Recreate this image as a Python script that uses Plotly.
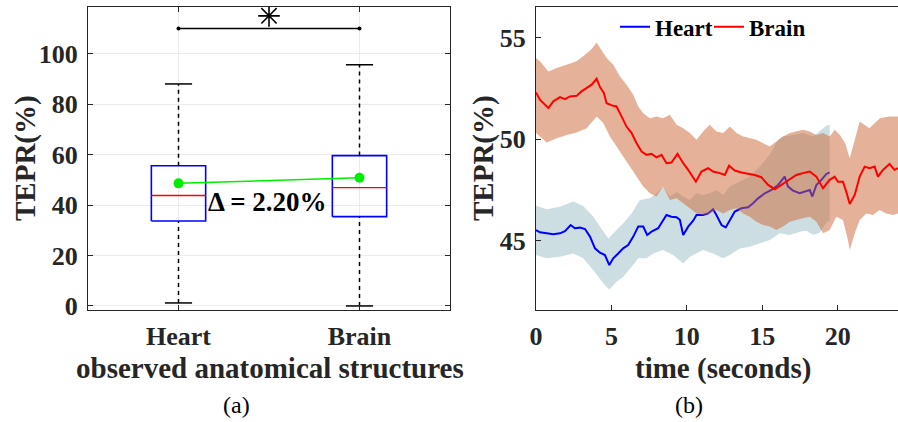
import plotly.graph_objects as go

W, H = 898, 422

# ---------------- (a) box-plot summary ----------------
categories = ["Heart", "Brain"]
lower_whisker = [1.2, 0.0]
q1 = [33.7, 35.4]
median = [43.8, 46.9]
q3 = [55.6, 59.6]
upper_whisker = [88.0, 95.6]
mean_val = [48.6, 50.8]
sig_level = 110.0
star_level = 115.0

# ---------------- (b) TEPR over time ----------------
brain_t = [0, 0.26, 0.82, 1.15, 1.59, 1.92, 2.25, 2.69, 3.02, 3.36, 3.69, 4.02, 4.24, 4.5, 4.68,
           5.12, 5.34, 5.67, 6.0, 6.34, 6.67, 7.0, 7.33, 7.66, 7.99, 8.32, 8.65, 8.98, 9.38, 9.76,
           10.09, 10.6, 10.97, 11.41, 11.74, 12.19, 12.52, 12.8, 13.18, 13.62, 14.06, 14.5, 14.94,
           15.39, 15.83, 16.27, 16.71, 17.26, 17.7, 18.15, 18.59, 19.03, 19.47, 19.8, 20.02, 20.35,
           20.57, 20.8, 21.13, 21.46, 21.79, 22.12, 22.45, 22.67, 23.0, 23.44, 23.77, 24.0]
brain_mean = [52.30, 51.94, 51.53, 51.86, 52.07, 51.97, 52.10, 52.13, 52.35, 52.51, 52.68, 52.97,
              52.56, 52.27, 51.77, 51.64, 51.61, 51.12, 50.62, 50.30, 49.80, 49.39, 49.23, 49.28,
              49.11, 49.23, 48.82, 48.85, 49.28, 48.82, 48.49, 47.91, 48.41, 48.57, 48.41, 48.33,
              48.24, 48.70, 48.46, 48.36, 48.29, 48.24, 48.13, 47.75, 47.54, 47.75, 48.00, 48.24,
              48.33, 48.41, 48.16, 47.59, 48.00, 48.16, 47.91, 47.91, 47.42, 46.81, 47.26, 48.16,
              48.65, 48.57, 48.65, 48.16, 48.49, 48.78, 48.49, 48.57]

brain_up_t = [0, 0.26, 0.82, 1.37, 2.03, 2.69, 3.25, 3.69, 4.02, 4.35, 4.68, 5.12, 5.56, 6.0, 6.45,
              6.78, 7.11, 7.55, 7.99, 8.43, 8.87, 9.32, 9.76, 10.2, 10.64, 11.08, 11.52, 11.96,
              12.41, 12.85, 13.29, 13.73, 14.17, 14.61, 15.06, 15.5, 15.94, 16.38, 16.82, 17.26,
              17.7, 18.15, 18.59, 19.03, 19.47, 19.8, 20.15, 20.5, 20.8, 21.0, 21.46, 22.1, 22.8,
              23.4, 24.0]
brain_upper = [53.99, 53.83, 53.33, 53.50, 53.66, 53.83, 54.15, 54.43, 54.76, 54.40, 53.99, 53.66,
               53.09, 52.68, 52.18, 51.61, 51.28, 51.03, 51.12, 51.03, 51.20, 50.71, 50.54, 50.30,
               49.97, 50.38, 50.71, 50.38, 50.30, 50.62, 50.30, 50.13, 50.05, 49.97, 49.80, 49.64,
               49.89, 50.13, 50.30, 50.38, 50.46, 50.38, 50.21, 50.30, 50.13, 50.46, 50.21, 49.80,
               49.06, 49.60, 50.87, 50.54, 51.03, 51.11, 51.11]

brain_lo_t = [0, 0.71, 1.37, 2.03, 2.69, 3.36, 4.02, 4.46, 4.9, 5.34, 5.78, 6.23, 6.67, 7.11, 7.55,
              7.99, 8.43, 8.87, 9.32, 9.76, 10.2, 10.64, 11.08, 11.52, 11.96, 12.41, 12.85, 13.29,
              13.73, 14.17, 14.61, 15.06, 15.5, 15.94, 16.38, 16.82, 17.26, 17.7, 18.15, 18.59,
              19.03, 19.47, 19.91, 20.35, 20.68, 20.8, 21.13, 21.46, 21.9, 22.34, 22.78, 23.22,
              23.66, 24.0]
brain_lower = [50.30, 49.84, 50.05, 50.21, 50.33, 50.54, 51.12, 50.79, 50.13, 49.64, 49.15, 48.65,
               48.16, 47.67, 47.34, 47.18, 47.67, 47.01, 47.09, 46.85, 46.60, 46.35, 46.27, 46.35,
               46.52, 46.35, 46.52, 46.60, 46.35, 46.19, 45.94, 45.78, 45.70, 45.53, 45.70, 45.94,
               46.03, 46.11, 46.19, 45.94, 45.37, 45.53, 46.19, 46.03, 45.04, 44.55, 45.37, 46.03,
               46.35, 46.27, 46.52, 46.35, 46.27, 46.35]

heart_t = [0, 0.26, 0.71, 1.15, 1.59, 1.92, 2.3, 2.58, 2.91, 3.25, 3.58, 3.91, 4.24, 4.57, 4.86,
           5.12, 5.45, 5.78, 6.11, 6.45, 6.78, 7.11, 7.37, 7.66, 8.1, 8.32, 8.65, 8.98, 9.32, 9.54,
           9.76, 10.09, 10.42, 10.64, 11.08, 11.41, 11.74, 11.96, 12.3, 12.58, 12.85, 13.18, 13.62,
           14.06, 14.39, 14.72, 15.17, 15.61, 16.05, 16.49, 16.71, 17.04, 17.48, 17.81, 18.15,
           18.32, 18.59, 18.92, 19.25, 19.47]
heart_mean = [45.53, 45.42, 45.37, 45.32, 45.37, 45.48, 45.78, 45.62, 45.65, 45.58, 45.21, 44.63,
              44.42, 44.30, 43.81, 44.14, 44.38, 44.63, 44.79, 45.21, 45.70, 45.70, 45.29, 45.45,
              45.62, 45.86, 46.27, 46.19, 46.16, 46.03, 45.29, 45.70, 45.99, 46.27, 46.27, 46.35,
              46.55, 46.27, 45.78, 45.66, 46.03, 46.44, 46.60, 46.65, 46.85, 47.09, 47.34, 47.50,
              47.75, 48.16, 47.67, 47.47, 47.34, 47.42, 47.50, 47.18, 47.75, 48.00, 48.29, 48.37]

heart_up_t = [0, 0.71, 1.59, 2.47, 3.13, 3.8, 4.24, 4.79, 5.34, 5.78, 6.34, 6.89, 7.55, 7.99, 8.43,
              8.87, 9.32, 9.76, 10.2, 10.64, 11.08, 11.52, 11.96, 12.41, 12.85, 13.51, 14.17, 14.83,
              15.5, 16.05, 16.38, 17.04, 17.7, 18.37, 18.81, 19.25, 19.47]
heart_upper = [46.73, 46.55, 46.68, 46.93, 46.72, 46.19, 45.70, 45.12, 45.53, 45.86, 46.35, 47.01,
               47.09, 47.34, 47.67, 47.18, 47.42, 47.18, 47.01, 47.34, 47.26, 47.34, 47.50, 47.26,
               47.67, 47.91, 48.16, 48.65, 49.23, 49.97, 50.13, 50.21, 50.30, 50.13, 50.38, 50.66,
               50.71]

heart_lo_t = [0, 0.71, 1.59, 2.47, 3.13, 3.8, 4.46, 4.86, 5.34, 5.78, 6.34, 6.78, 7.33, 7.77, 8.43,
              9.09, 9.76, 10.2, 10.64, 11.08, 11.74, 12.41, 12.85, 13.51, 14.17, 14.83, 15.5,
              16.16, 16.82, 17.48, 17.92, 18.37, 18.81, 19.25, 19.47]
heart_lower = [44.30, 44.14, 44.22, 44.38, 44.14, 43.56, 42.91, 42.61, 42.99, 43.23, 43.73, 44.14,
               44.14, 44.38, 44.55, 44.30, 43.89, 44.22, 44.38, 44.55, 44.38, 44.14, 44.30, 44.63,
               44.71, 44.88, 45.04, 45.37, 45.29, 45.45, 45.50, 45.30, 45.40, 45.90, 46.00]

# ---------------- styling ----------------
SERIF = "Liberation Serif, Times New Roman, serif"
AX_COLOR = "#262626"
GRID = "#ebebeb"
BRAIN_FILL = "rgba(204,102,51,0.5)"
HEART_FILL = "rgba(155,190,200,0.5)"


def px_x(px):
    return px / W


def px_y(py):
    return 1 - py / H


fig = go.Figure()

box_half = 0.15
cap_half = 0.075
for i, name in enumerate(categories):
    c = i + 1
    # dashed whiskers
    for lo, hi in ((q3[i], upper_whisker[i]), (lower_whisker[i], q1[i])):
        fig.add_trace(go.Scatter(x=[c, c], y=[lo, hi], mode="lines",
                                 line=dict(color="black", width=1.5, dash="4px,4px"),
                                 showlegend=False, hoverinfo="skip", xaxis="x", yaxis="y"))
    # whisker caps
    for v in (upper_whisker[i], lower_whisker[i]):
        fig.add_trace(go.Scatter(x=[c - cap_half, c + cap_half], y=[v, v], mode="lines",
                                 line=dict(color="black", width=1.5),
                                 showlegend=False, hoverinfo="skip", xaxis="x", yaxis="y"))
    # box
    fig.add_trace(go.Scatter(x=[c - box_half, c + box_half, c + box_half, c - box_half, c - box_half],
                             y=[q1[i], q1[i], q3[i], q3[i], q1[i]], mode="lines",
                             line=dict(color="#0000ff", width=1.6),
                             showlegend=False, hoverinfo="skip", xaxis="x", yaxis="y"))
    # median
    fig.add_trace(go.Scatter(x=[c - box_half, c + box_half], y=[median[i], median[i]], mode="lines",
                             line=dict(color="#ff0000", width=1.4),
                             showlegend=False, hoverinfo="skip", xaxis="x", yaxis="y"))

# means joined by a green line
fig.add_trace(go.Scatter(x=[1, 2], y=mean_val, mode="lines+markers",
                         line=dict(color="#00ee00", width=1.5),
                         marker=dict(color="#00ee00", size=10),
                         showlegend=False, hoverinfo="skip", xaxis="x", yaxis="y"))

# significance bracket and star
fig.add_trace(go.Scatter(x=[1, 2], y=[sig_level, sig_level], mode="lines+markers",
                         line=dict(color="black", width=1.5),
                         marker=dict(color="black", size=4),
                         showlegend=False, hoverinfo="skip", xaxis="x", yaxis="y"))
fig.add_trace(go.Scatter(x=[1.5], y=[star_level], mode="markers",
                         marker=dict(symbol="asterisk-open", size=18, color="black",
                                     line=dict(color="black", width=1.6)),
                         showlegend=False, hoverinfo="skip", xaxis="x", yaxis="y"))

delta = mean_val[1] - mean_val[0]
fig.add_annotation(x=1.151, y=41.4, xref="x", yref="y", xanchor="left", yanchor="middle",
                   text=f"Δ = {delta:.2f}%", showarrow=False,
                   font=dict(family=SERIF, size=27, color="black", weight="bold"))

# ---- right panel: bands and mean curves ----
fig.add_trace(go.Scatter(x=heart_up_t + heart_lo_t[::-1], y=heart_upper + heart_lower[::-1],
                         fill="toself", fillcolor=HEART_FILL, line=dict(width=0),
                         mode="lines", showlegend=False, hoverinfo="skip",
                         xaxis="x2", yaxis="y2"))
fig.add_trace(go.Scatter(x=heart_t, y=heart_mean, mode="lines", name="Heart",
                         line=dict(color="#0000ff", width=2), legend="legend",
                         xaxis="x2", yaxis="y2"))
fig.add_trace(go.Scatter(x=brain_up_t + brain_lo_t[::-1], y=brain_upper + brain_lower[::-1],
                         fill="toself", fillcolor=BRAIN_FILL, line=dict(width=0),
                         mode="lines", showlegend=False, hoverinfo="skip",
                         xaxis="x2", yaxis="y2"))
fig.add_trace(go.Scatter(x=brain_t, y=brain_mean, mode="lines", name="Brain",
                         line=dict(color="#ff0000", width=2), legend="legend2",
                         xaxis="x2", yaxis="y2"))

tick_font = dict(family=SERIF, size=26, color="#262626", weight="bold")
axis_common = dict(showline=True, linecolor=AX_COLOR, linewidth=1, ticks="inside",
                   ticklen=5, tickcolor=AX_COLOR, tickwidth=1, zeroline=False,
                   tickfont=tick_font, automargin=False)

y_dom = [px_y(310), px_y(7)]
legend_font = dict(family=SERIF, size=23, color="black", weight="bold")
fig.update_layout(
    template="none",
    width=W, height=H, margin=dict(l=0, r=0, t=0, b=0, pad=0),
    paper_bgcolor="white", plot_bgcolor="white",
    xaxis=dict(domain=[px_x(88), px_x(450)], range=[0.5, 2.5], tickvals=[1, 2],
               ticktext=categories, showgrid=True, gridcolor=GRID, gridwidth=1,
               mirror="ticks", anchor="y", ticklabelstandoff=3, **axis_common),
    yaxis=dict(domain=y_dom, range=[-1.6, 118.5], tickvals=[0, 20, 40, 60, 80, 100],
               showgrid=True, gridcolor=GRID, gridwidth=1, mirror="ticks", anchor="x",
               ticklabelstandoff=4, **axis_common),
    xaxis2=dict(domain=[px_x(536), 1.0], range=[0, 24], tickvals=[0, 5, 10, 15, 20],
                showgrid=False, mirror=True, anchor="y2", ticklabelstandoff=3, **axis_common),
    yaxis2=dict(domain=y_dom, range=[41.6, 56.5], tickvals=[45, 50, 55],
                showgrid=False, anchor="x2", ticklabelstandoff=4, **axis_common),
    legend=dict(x=px_x(615), y=px_y(26.7), xanchor="left", yanchor="middle",
                orientation="h", bgcolor="rgba(0,0,0,0)", borderwidth=0, font=legend_font),
    legend2=dict(x=px_x(709), y=px_y(26.7), xanchor="left", yanchor="middle",
                 orientation="h", bgcolor="rgba(0,0,0,0)", borderwidth=0, font=legend_font),
)

title_font = dict(family=SERIF, size=29, color="#262626", weight="bold")
fig.add_annotation(x=px_x(25), y=px_y(158), xref="paper", yref="paper", text="TEPR(%)",
                   textangle=-90, showarrow=False, font=title_font,
                   xanchor="center", yanchor="middle")
fig.add_annotation(x=px_x(483), y=px_y(158), xref="paper", yref="paper", text="TEPR(%)",
                   textangle=-90, showarrow=False, font=title_font,
                   xanchor="center", yanchor="middle")
fig.add_annotation(x=px_x(270), y=px_y(368), xref="paper", yref="paper",
                   text="observed anatomical structures", showarrow=False, font=title_font,
                   xanchor="center", yanchor="middle")
fig.add_annotation(x=px_x(723), y=px_y(368), xref="paper", yref="paper",
                   text="time (seconds)", showarrow=False, font=title_font,
                   xanchor="center", yanchor="middle")

cap_font = dict(family=SERIF, size=24, color="black")
fig.add_annotation(x=px_x(236), y=px_y(405), xref="paper", yref="paper", text="(a)",
                   showarrow=False, font=cap_font, xanchor="center", yanchor="middle")
fig.add_annotation(x=px_x(689), y=px_y(405), xref="paper", yref="paper", text="(b)",
                   showarrow=False, font=cap_font, xanchor="center", yanchor="middle")

fig.write_html("out.html")
